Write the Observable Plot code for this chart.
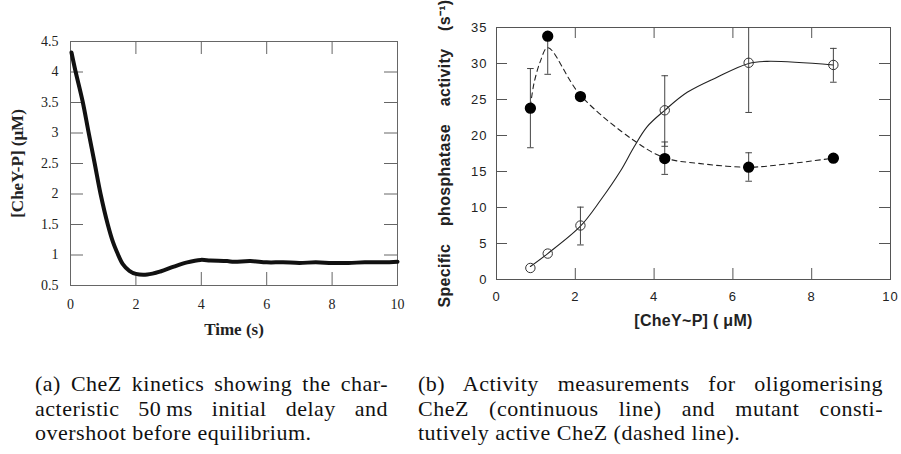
<!DOCTYPE html>
<html>
<head>
<meta charset="utf-8">
<script src="https://cdn.jsdelivr.net/npm/d3@7"></script>
<script src="https://cdn.jsdelivr.net/npm/@observablehq/plot@0.6"></script>
<style>
  body { margin: 0; background: #fff; }
  #wrap { position: relative; width: 901px; height: 454px; overflow: hidden; background: #fff; }
  #chartA { position: absolute; left: 0; top: 0; }
  #chartB { position: absolute; left: 420px; top: 0; }
  #chartA g[aria-label="x-axis label"] text,
  #chartA g[aria-label="y-axis label"] text { font-weight: bold; font-size: 17px; }
  #chartB g[aria-label="x-axis tick label"] text,
  #chartB g[aria-label="y-axis tick label"] text { letter-spacing: 1px; }
  #chartB g[aria-label="x-axis label"] text { font-weight: bold; font-size: 16px; letter-spacing: 0.3px; }
  #chartB g[aria-label="y-axis label"] text { font-weight: bold; font-size: 16px; word-spacing: 13px; letter-spacing: 0.3px; }
  .cap { position: absolute; font-family: "Liberation Serif", "Times New Roman", serif; font-size: 22px; line-height: 24.5px; color: #111; letter-spacing: 0.5px; }
  .cap .j { text-align: justify; text-align-last: justify; }
  .cap .l { text-align: left; }
</style>
</head>
<body>
<div id="wrap">
  <div id="chartA"></div>
  <div id="chartB"></div>
  <div class="cap" style="left:35px; top:372px; width:353px;">
    <div class="j">(a) CheZ kinetics showing the char-</div>
    <div class="j">acteristic 50&#8201;ms initial delay and</div>
    <div class="l">overshoot before equilibrium.</div>
  </div>
  <div class="cap" style="left:418px; top:372px; width:465px;">
    <div class="j">(b) Activity measurements for oligomerising</div>
    <div class="j">CheZ (continuous line) and mutant consti-</div>
    <div class="l">tutively active CheZ (dashed line).</div>
  </div>
</div>
<script>
// ---------- Panel (a): CheZ kinetics ----------
const timeS = [0.03, 0.15, 0.37, 0.55, 0.74, 0.92, 1.14, 1.30, 1.42, 1.60, 1.80, 2.00, 2.35, 2.75, 3.16, 3.57, 3.98, 4.28, 4.79, 5.0, 5.5, 6.0, 6.5, 7.0, 7.5, 8.0, 8.5, 9.0, 9.5, 10.0];
const cheYP = [4.32, 4.02, 3.52, 3.02, 2.50, 2.00, 1.50, 1.21, 1.05, 0.85, 0.74, 0.69, 0.68, 0.73, 0.81, 0.88, 0.92, 0.91, 0.90, 0.89, 0.90, 0.88, 0.88, 0.87, 0.88, 0.87, 0.87, 0.88, 0.88, 0.89];
const aXTicks = [0, 2, 4, 6, 8, 10];
const aYTicks = [0.5, 1, 1.5, 2, 2.5, 3, 3.5, 4, 4.5];
const aInnerX = [2, 4, 6, 8];
const aInnerY = [1, 1.5, 2, 2.5, 3, 3.5, 4];

// ---------- Panel (b): activity measurements ----------
const cheyX = [0.86, 1.30, 2.13, 4.27, 6.40, 8.55];
const openAct = [1.6, 3.6, 7.5, 23.5, 30.1, 29.8];
const openLo = [null, null, 4.8, 18.5, 23.2, 27.4];
const openHi = [null, null, 10.05, 28.3, 35, 32.1];
const filledAct = [23.8, 33.8, 25.4, 16.8, 15.6, 16.85];
const filledLo = [18.3, 28.5, null, 14.6, 13.65, null];
const filledHi = [29.3, 33.8, null, 19.1, 17.6, null];
const openFitX = [0.86, 1.30, 2.13, 2.64, 3.15, 3.49, 3.82, 4.27, 4.84, 5.6, 6.40, 6.87, 8.55];
const openFitY = [1.8, 3.6, 7.4, 11.0, 15.1, 18.4, 21.2, 23.5, 26.0, 28.1, 30.0, 30.3, 29.8];
const filledFitX = [0.86, 0.95, 1.12, 1.30, 2.13, 3.49, 4.27, 5.18, 6.40, 7.46, 8.55];
const filledFitY = [24.0, 27.2, 30.4, 32.2, 25.6, 19.3, 16.9, 16.1, 15.6, 16.1, 16.85];
const bXTicks = [0, 2, 4, 6, 8, 10];
const bYTicks = [0, 5, 10, 15, 20, 25, 30, 35];
const bInnerX = [2, 4, 6, 8];
const bInnerY = [5, 10, 15, 20, 25, 30];

// ---------- build panel (a) ----------
const A = {w: 420, h: 345, top: 41, right: 23, bottom: 60, left: 70};
const aPW = A.w - A.left - A.right, aPH = A.h - A.top - A.bottom;
const tickA = 13;
const dataA = timeS.map((t, i) => ({t, c: cheYP[i]}));
const frameA = "#666";

const plotA = Plot.plot({
  width: A.w, height: A.h,
  marginTop: A.top, marginRight: A.right, marginBottom: A.bottom, marginLeft: A.left,
  style: {fontFamily: "'Liberation Serif', serif", fontSize: "14px", color: "#222", background: "transparent"},
  x: {domain: [0, 10]},
  y: {domain: [0.5, 4.5]},
  marks: [
    Plot.frame({stroke: frameA}),
    Plot.tickY(aInnerY, {y: d => d, insetRight: aPW - tickA, stroke: frameA}),
    Plot.tickY(aInnerY, {y: d => d, insetLeft: aPW - tickA, stroke: frameA}),
    Plot.tickX(aInnerX, {x: d => d, insetTop: aPH - tickA, stroke: frameA}),
    Plot.tickX(aInnerX, {x: d => d, insetBottom: aPH - tickA, stroke: frameA}),
    Plot.line(dataA, {x: "t", y: "c", stroke: "#111", strokeWidth: 4, curve: "catmull-rom"}),
    Plot.axisX({ticks: aXTicks, tickSize: 0, tickPadding: 14, tickFormat: d => String(d),
      label: "Time (s)", labelAnchor: "center", labelOffset: 49, labelArrow: "none"}),
    Plot.axisY({ticks: aYTicks, tickSize: 0, tickPadding: 12, tickFormat: d => String(d),
      label: "[CheY-P] (μM)", labelAnchor: "center", labelOffset: 60, labelArrow: "none"})
  ]
});
document.getElementById("chartA").appendChild(plotA);

// ---------- build panel (b) ----------
const B = {w: 481, h: 340, top: 27, right: 11, bottom: 61, left: 76};
const bPW = B.w - B.left - B.right, bPH = B.h - B.top - B.bottom;
const tickB = 11;
const frameB = "#555";

const openPts = cheyX.map((x, i) => ({x, y: openAct[i], lo: openLo[i], hi: openHi[i]}));
const filledPts = cheyX.map((x, i) => ({x, y: filledAct[i], lo: filledLo[i], hi: filledHi[i]}));
const bars = openPts.concat(filledPts).filter(d => d.lo != null);
const caps = [];
bars.forEach(d => { caps.push({x: d.x, y: d.lo}); if (d.hi < 35) caps.push({x: d.x, y: d.hi}); });
const openFit = openFitX.map((x, i) => ({x, y: openFitY[i]}));
const filledFit = filledFitX.map((x, i) => ({x, y: filledFitY[i]}));
const capSymbol = {draw(ctx, size) { const r = Math.sqrt(size / Math.PI); ctx.moveTo(-r, 0); ctx.lineTo(r, 0); }};

const plotB = Plot.plot({
  width: B.w, height: B.h,
  marginTop: B.top, marginRight: B.right, marginBottom: B.bottom, marginLeft: B.left,
  style: {fontFamily: "'Liberation Sans', Arial, sans-serif", fontSize: "13px", color: "#222", background: "transparent"},
  x: {domain: [0, 10]},
  y: {domain: [0, 35]},
  marks: [
    Plot.frame({stroke: frameB}),
    Plot.tickY(bInnerY, {y: d => d, insetRight: bPW - tickB, stroke: frameB}),
    Plot.tickY(bInnerY, {y: d => d, insetLeft: bPW - tickB, stroke: frameB}),
    Plot.tickX(bInnerX, {x: d => d, insetTop: bPH - tickB, stroke: frameB}),
    Plot.tickX(bInnerX, {x: d => d, insetBottom: bPH - tickB, stroke: frameB}),
    Plot.line(openFit, {x: "x", y: "y", stroke: "#222", strokeWidth: 1.1, curve: "catmull-rom"}),
    Plot.line(filledFit, {x: "x", y: "y", stroke: "#222", strokeWidth: 1.1, strokeDasharray: "5,4", curve: "catmull-rom"}),
    Plot.ruleX(bars, {x: "x", y1: "lo", y2: "hi", stroke: "#444", strokeWidth: 1}),
    Plot.dot(caps, {x: "x", y: "y", symbol: capSymbol, r: 3.3, stroke: "#444", fill: "none", strokeWidth: 1}),
    Plot.dot(openPts, {x: "x", y: "y", r: 4.7, stroke: "#333", fill: "none", strokeWidth: 1}),
    Plot.dot(filledPts, {x: "x", y: "y", r: 4.9, fill: "#000", stroke: "#000"}),
    Plot.axisX({ticks: bXTicks, tickSize: 0, tickPadding: 12, tickFormat: d => String(d),
      label: "[CheY~P] ( μM)", labelAnchor: "center", labelOffset: 46, labelArrow: "none"}),
    Plot.axisY({ticks: bYTicks, tickSize: 0, tickPadding: 9, tickFormat: d => String(d),
      label: "Specific phosphatase activity (s⁻¹)", labelAnchor: "center", labelOffset: 58, labelArrow: "none"})
  ]
});
document.getElementById("chartB").appendChild(plotB);
</script>
</body>
</html>
